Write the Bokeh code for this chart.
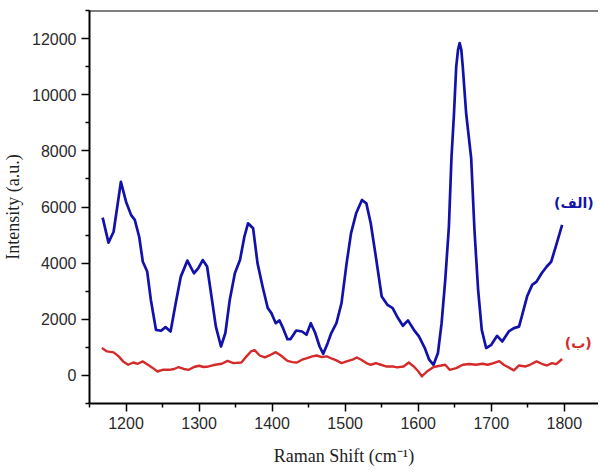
from bokeh.plotting import figure
from bokeh.models import FixedTicker, Span, Range1d
from bokeh.core.properties import value
from bokeh.embed import file_html
from bokeh.resources import INLINE

# Raman shift (cm-1) and intensity for sample (الف)
blue_x = [1168, 1176, 1183, 1193, 1200, 1207, 1212, 1218, 1223, 1229, 1234, 1241, 1248, 1254,
          1261, 1268, 1275, 1284, 1293, 1299, 1305, 1311, 1317, 1323, 1330, 1336, 1342, 1349,
          1356, 1362, 1367, 1374, 1380, 1387, 1394, 1399, 1405, 1410, 1414, 1421, 1425, 1433,
          1441, 1447, 1453, 1459, 1465, 1470, 1476, 1481, 1488, 1495, 1502, 1508, 1515, 1523,
          1529, 1535, 1542, 1550, 1558, 1565, 1571, 1579, 1586, 1594, 1601, 1609, 1615, 1621,
          1627, 1632, 1637, 1642, 1645.5, 1649, 1652, 1654.5, 1656.7, 1659, 1661, 1665.6, 1672.5,
          1677, 1682, 1687, 1693, 1700, 1708, 1715, 1724, 1731, 1738, 1743, 1749, 1756, 1762,
          1769, 1776, 1782, 1789, 1797]
blue_y = [5620, 4730, 5120, 6900, 6190, 5710, 5540, 4940, 4050, 3700, 2690, 1625, 1590, 1720,
          1565, 2575, 3520, 4090, 3640, 3820, 4110, 3880, 2810, 1740, 1030, 1510, 2690, 3640,
          4110, 4940, 5420, 5240, 4000, 3160, 2400, 2220, 1860, 1960, 1740, 1290, 1290, 1600,
          1565, 1450, 1860, 1510, 1030, 770, 1150, 1510, 1860, 2575, 4000, 5060, 5775, 6250,
          6130, 5420, 4230, 2810, 2510, 2400, 2100, 1770, 1960, 1625, 1390, 975, 560, 380,
          800, 1860, 3400, 5300, 7740, 9340, 10990, 11600, 11840, 11600, 10990, 9340, 7740,
          5180, 3050, 1625, 975, 1090, 1410, 1210, 1565, 1685, 1740, 2220, 2810, 3225, 3340,
          3640, 3880, 4050, 4650, 5360]

# Raman shift (cm-1) and intensity for sample (ب)
red_x = [1167, 1174, 1183, 1190, 1196, 1203, 1210, 1216, 1223, 1230, 1237, 1243, 1250, 1259,
         1266, 1272, 1279, 1286, 1293, 1300, 1306, 1313, 1322, 1331, 1339, 1347, 1358, 1365,
         1371, 1376, 1383, 1390, 1398, 1405, 1412, 1421, 1428, 1434, 1441, 1448, 1455, 1461,
         1468, 1475, 1482, 1488, 1495, 1502, 1510, 1516, 1522, 1529, 1535, 1542, 1549, 1556,
         1565, 1571, 1580, 1587, 1594, 1600, 1605, 1612, 1621, 1630, 1637, 1643, 1652, 1661,
         1670, 1679, 1688, 1695, 1700, 1711, 1717, 1731, 1738, 1747, 1753, 1762, 1769, 1776,
         1783, 1789, 1797]
red_y = [975, 855, 820, 680, 500, 380, 460, 415, 500, 380, 260, 140, 200, 200,
         230, 300, 230, 200, 300, 345, 300, 320, 380, 415, 520, 440, 460, 680,
         855, 900, 710, 640, 735, 830, 710, 520, 475, 460, 560, 620, 680, 710,
         655, 680, 595, 535, 440, 500, 560, 640, 560, 440, 380, 440, 380, 320,
         320, 285, 320, 460, 320, 150, -35, 140, 300, 345, 380, 200, 260, 380,
         405, 380, 415, 380, 415, 510, 380, 180, 355, 320, 380, 500, 415, 355,
         440, 405, 585]

x_ticks = [1200, 1300, 1400, 1500, 1600, 1700, 1800]
x_minor = [1150, 1250, 1350, 1450, 1550, 1650, 1750, 1850]
y_ticks = [0, 2000, 4000, 6000, 8000, 10000, 12000]
y_minor = [-1000, 1000, 3000, 5000, 7000, 9000, 11000, 13000]

label_a = "(الف)"
label_b = "(ب)"

BLUE = "#1212aa"
RED = "#d42a2a"

p = figure(width=598, height=470, output_backend="svg", toolbar_location=None,
           x_range=Range1d(1150, 1846.8), y_range=Range1d(-1000, 13000),
           min_border_left=81, min_border_right=0, min_border_top=10, min_border_bottom=67)
p.outline_line_color = None
p.grid.visible = False
p.background_fill_color = "white"

p.line(blue_x, blue_y, line_color=BLUE, line_width=2.7, line_join="round")
p.line(red_x, red_y, line_color=RED, line_width=2.4, line_join="round")

p.text(x=[1813], y=[6141], text=[label_a], text_color=BLUE, text_font=value("DejaVu Sans"),
       text_font_size="14px", text_font_style="bold", text_align="center", text_baseline="middle")
p.text(x=[1819], y=[1160], text=[label_b], text_color=RED, text_font=value("DejaVu Sans"),
       text_font_size="14px", text_font_style="bold", text_align="center", text_baseline="middle")

top = Span(location=13000, dimension="width", line_color="black", line_width=2)
p.add_layout(top)

for ax in (p.xaxis[0], p.yaxis[0]):
    ax.axis_line_color = "black"
    ax.axis_line_width = 2
    ax.major_tick_line_color = "black"
    ax.major_tick_line_width = 1.5
    ax.minor_tick_line_color = "black"
    ax.minor_tick_line_width = 1.5
    ax.major_tick_out = 8
    ax.major_tick_in = 0
    ax.minor_tick_out = 4
    ax.minor_tick_in = 0
    ax.major_label_text_font = "Liberation Sans"
    ax.major_label_text_font_size = "16px"
    ax.major_label_text_color = "#2a2a2a"
    ax.major_label_standoff = 5
    ax.axis_label_text_font = "Liberation Serif"
    ax.axis_label_text_font_size = "18px"
    ax.axis_label_text_font_style = "normal"
    ax.axis_label_text_color = "#222222"

p.xaxis.ticker = FixedTicker(ticks=x_ticks, minor_ticks=x_minor)
p.yaxis.ticker = FixedTicker(ticks=y_ticks, minor_ticks=y_minor)
p.xaxis.axis_label = "Raman Shift (cm\u207b\u00b9)"
p.yaxis.axis_label = "Intensity (a.u.)"
p.xaxis.axis_label_standoff = 14
p.yaxis.axis_label_standoff = 6

open("out.html", "w").write(file_html(p, INLINE))
